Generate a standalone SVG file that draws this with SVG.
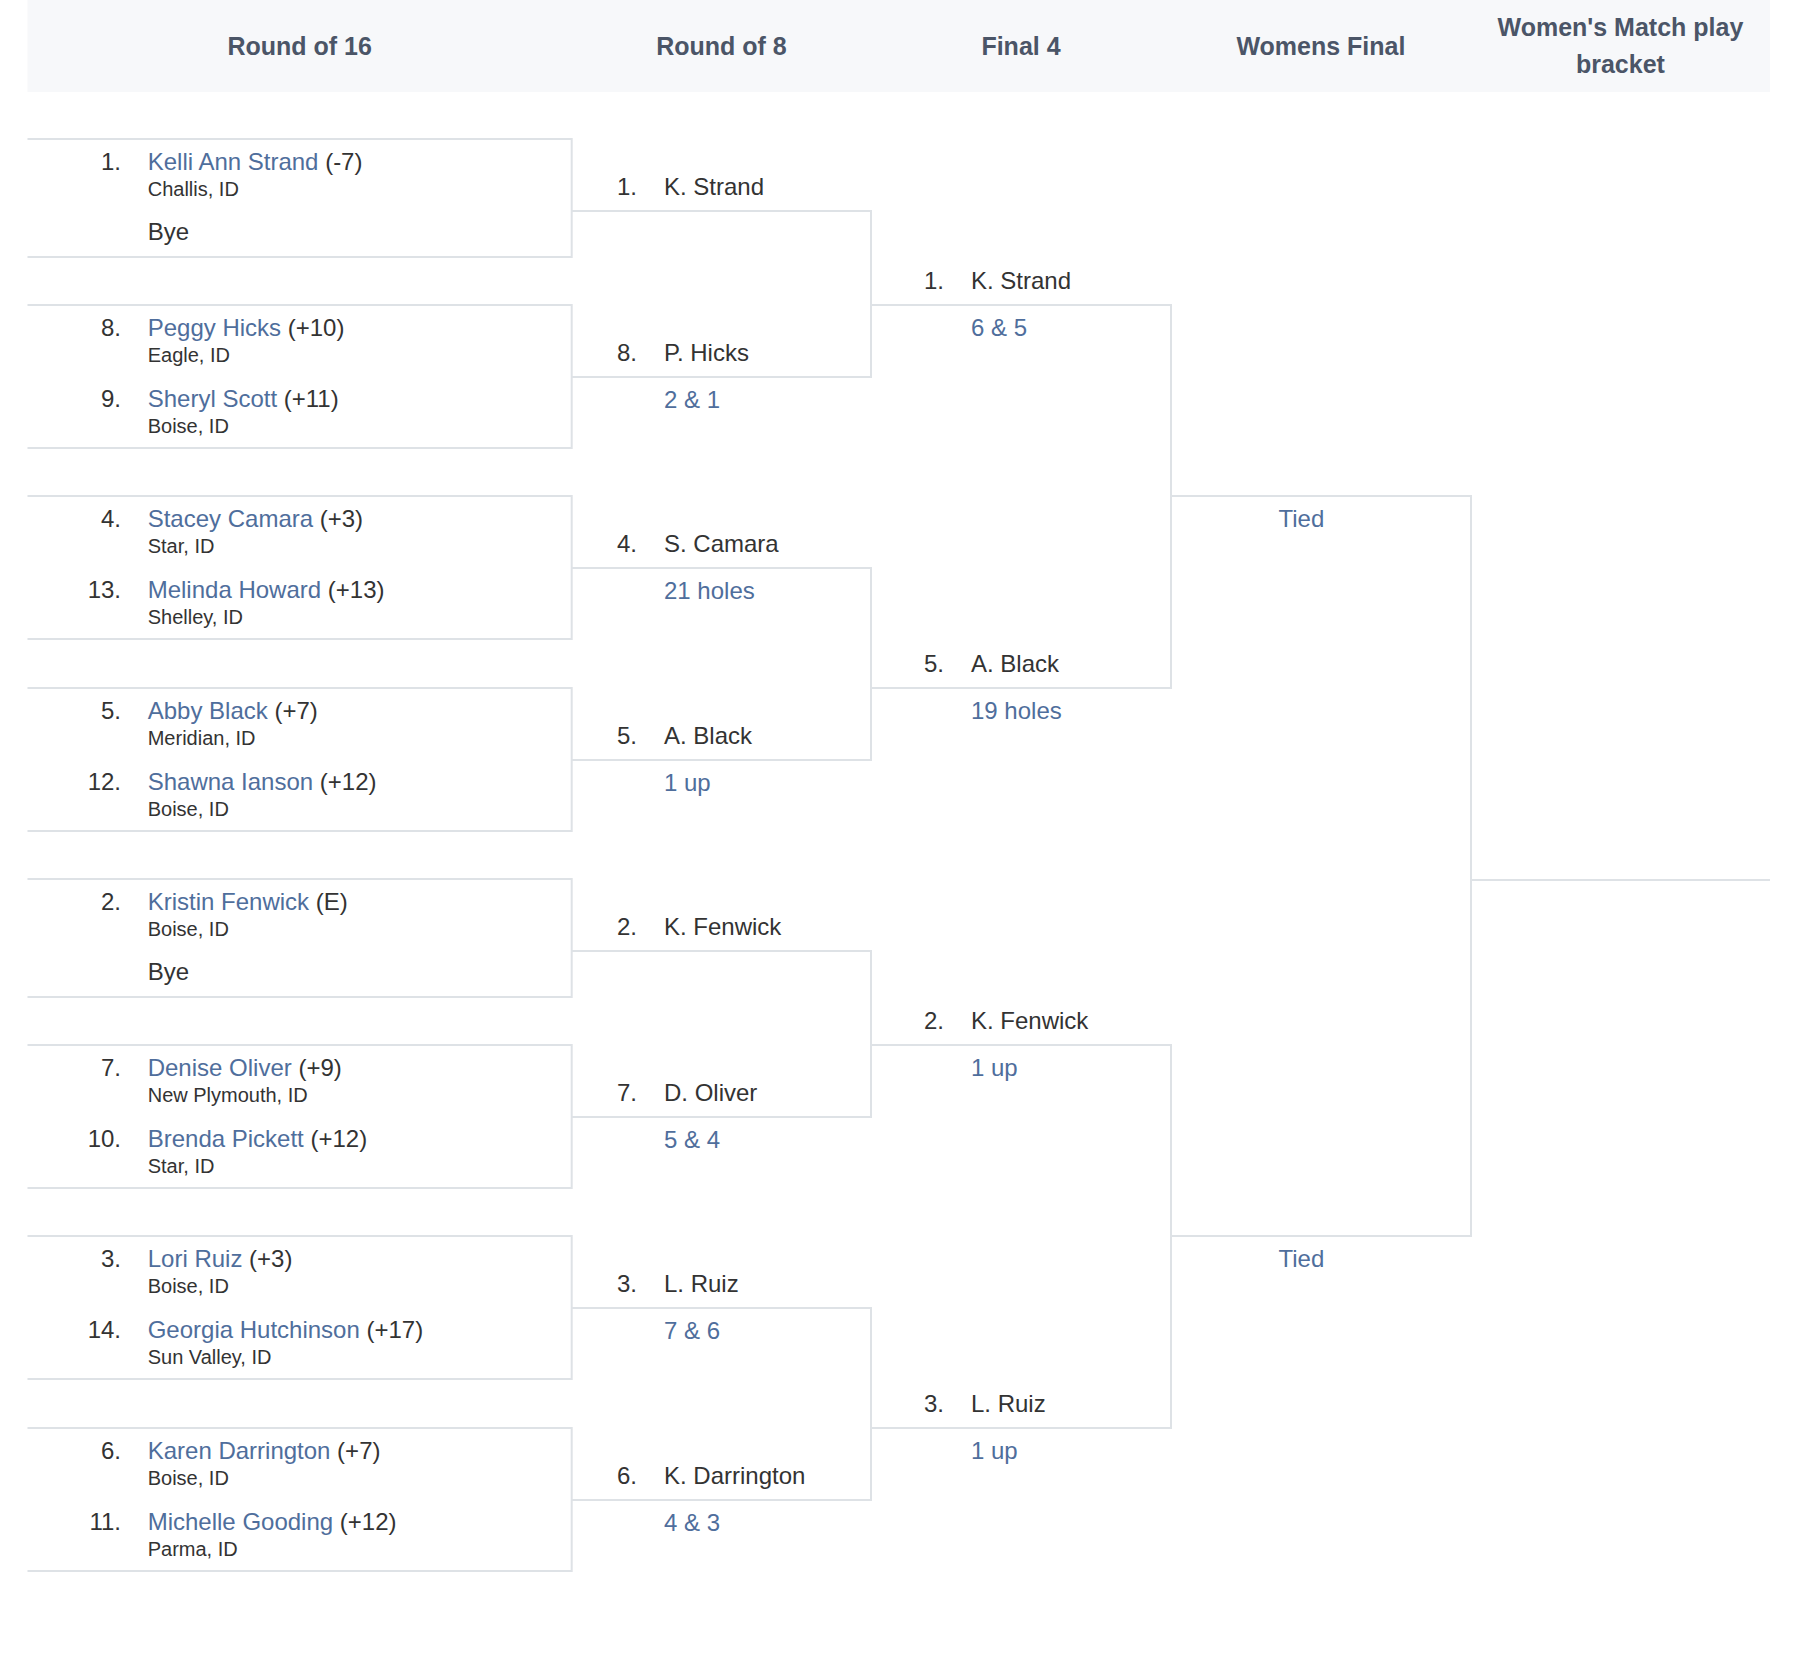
<svg xmlns="http://www.w3.org/2000/svg" width="1800" height="1664" viewBox="0 0 1800 1664">
<style>
.hd{font-family:"Liberation Sans",Arial,sans-serif;font-weight:bold;font-size:25px;fill:#4b5567;text-anchor:middle}
.t{font-family:"Liberation Sans",Arial,sans-serif;font-size:24px;fill:#333333}
.ct{font-family:"Liberation Sans",Arial,sans-serif;font-size:20px;fill:#333333}
.sd{text-anchor:end}
.lk{fill:#4f6e9c}
.ln{fill:none;stroke:#dee2e6;stroke-width:2}
</style>
<rect width="1800" height="1664" fill="#ffffff"/>
<g id="header">
<rect x="27.5" y="0" width="1742.5" height="92" fill="#f7f8fa"/>
<text class="hd" x="299.6" y="55">Round of 16</text>
<text class="hd" x="721.4" y="55">Round of 8</text>
<text class="hd" x="1021" y="55">Final 4</text>
<text class="hd" x="1320.9" y="55">Womens Final</text>
<text class="hd" x="1620.4" y="35.7">Women's Match play</text>
<text class="hd" x="1620.4" y="72.7">bracket</text>
</g>

<g id="r16-m1">
<path class="ln" d="M27.5,139H571.7V257H27.5"/>
<text class="t sd" x="121" y="170">1.</text>
<text class="t" x="147.7" y="170"><tspan class="lk">Kelli Ann Strand</tspan> (-7)</text>
<text class="ct" x="147.7" y="196.3">Challis, ID</text>
<text class="t" x="147.7" y="240">Bye</text>
</g>
<g id="r16-m2">
<path class="ln" d="M27.5,305H571.7V448H27.5"/>
<text class="t sd" x="121" y="336">8.</text>
<text class="t" x="147.7" y="336"><tspan class="lk">Peggy Hicks</tspan> (+10)</text>
<text class="ct" x="147.7" y="362.3">Eagle, ID</text>
<text class="t sd" x="121" y="406.7">9.</text>
<text class="t" x="147.7" y="406.7"><tspan class="lk">Sheryl Scott</tspan> (+11)</text>
<text class="ct" x="147.7" y="433.3">Boise, ID</text>
</g>
<g id="r16-m3">
<path class="ln" d="M27.5,496H571.7V639H27.5"/>
<text class="t sd" x="121" y="527">4.</text>
<text class="t" x="147.7" y="527"><tspan class="lk">Stacey Camara</tspan> (+3)</text>
<text class="ct" x="147.7" y="553.3">Star, ID</text>
<text class="t sd" x="121" y="597.7">13.</text>
<text class="t" x="147.7" y="597.7"><tspan class="lk">Melinda Howard</tspan> (+13)</text>
<text class="ct" x="147.7" y="624.3">Shelley, ID</text>
</g>
<g id="r16-m4">
<path class="ln" d="M27.5,688H571.7V831H27.5"/>
<text class="t sd" x="121" y="719">5.</text>
<text class="t" x="147.7" y="719"><tspan class="lk">Abby Black</tspan> (+7)</text>
<text class="ct" x="147.7" y="745.3">Meridian, ID</text>
<text class="t sd" x="121" y="789.7">12.</text>
<text class="t" x="147.7" y="789.7"><tspan class="lk">Shawna Ianson</tspan> (+12)</text>
<text class="ct" x="147.7" y="816.3">Boise, ID</text>
</g>
<g id="r16-m5">
<path class="ln" d="M27.5,879H571.7V997H27.5"/>
<text class="t sd" x="121" y="910">2.</text>
<text class="t" x="147.7" y="910"><tspan class="lk">Kristin Fenwick</tspan> (E)</text>
<text class="ct" x="147.7" y="936.3">Boise, ID</text>
<text class="t" x="147.7" y="980">Bye</text>
</g>
<g id="r16-m6">
<path class="ln" d="M27.5,1045H571.7V1188H27.5"/>
<text class="t sd" x="121" y="1076">7.</text>
<text class="t" x="147.7" y="1076"><tspan class="lk">Denise Oliver</tspan> (+9)</text>
<text class="ct" x="147.7" y="1102.3">New Plymouth, ID</text>
<text class="t sd" x="121" y="1146.7">10.</text>
<text class="t" x="147.7" y="1146.7"><tspan class="lk">Brenda Pickett</tspan> (+12)</text>
<text class="ct" x="147.7" y="1173.3">Star, ID</text>
</g>
<g id="r16-m7">
<path class="ln" d="M27.5,1236H571.7V1379H27.5"/>
<text class="t sd" x="121" y="1267">3.</text>
<text class="t" x="147.7" y="1267"><tspan class="lk">Lori Ruiz</tspan> (+3)</text>
<text class="ct" x="147.7" y="1293.3">Boise, ID</text>
<text class="t sd" x="121" y="1337.7">14.</text>
<text class="t" x="147.7" y="1337.7"><tspan class="lk">Georgia Hutchinson</tspan> (+17)</text>
<text class="ct" x="147.7" y="1364.3">Sun Valley, ID</text>
</g>
<g id="r16-m8">
<path class="ln" d="M27.5,1428H571.7V1571H27.5"/>
<text class="t sd" x="121" y="1459">6.</text>
<text class="t" x="147.7" y="1459"><tspan class="lk">Karen Darrington</tspan> (+7)</text>
<text class="ct" x="147.7" y="1485.3">Boise, ID</text>
<text class="t sd" x="121" y="1529.7">11.</text>
<text class="t" x="147.7" y="1529.7"><tspan class="lk">Michelle Gooding</tspan> (+12)</text>
<text class="ct" x="147.7" y="1556.3">Parma, ID</text>
</g>

<g id="connectors">
<path class="ln" d="M571.7,211H871V377H571.7"/>
<path class="ln" d="M571.7,568H871V760H571.7"/>
<path class="ln" d="M571.7,951H871V1117H571.7"/>
<path class="ln" d="M571.7,1308H871V1500H571.7"/>
<path class="ln" d="M871,305H1171V688H871"/>
<path class="ln" d="M871,1045H1171V1428H871"/>
<path class="ln" d="M1171,496H1471V1236H1171"/>
<path class="ln" d="M1471,880H1770"/>
</g>

<g id="r8-1"><text class="t sd" x="637" y="194.5">1.</text><text class="t" x="664" y="194.5">K. Strand</text></g>
<g id="r8-2"><text class="t sd" x="637" y="360.5">8.</text><text class="t" x="664" y="360.5">P. Hicks</text><text class="t lk" x="664" y="407.5">2 &amp; 1</text></g>
<g id="r8-3"><text class="t sd" x="637" y="551.5">4.</text><text class="t" x="664" y="551.5">S. Camara</text><text class="t lk" x="664" y="598.5">21 holes</text></g>
<g id="r8-4"><text class="t sd" x="637" y="743.5">5.</text><text class="t" x="664" y="743.5">A. Black</text><text class="t lk" x="664" y="790.5">1 up</text></g>
<g id="r8-5"><text class="t sd" x="637" y="934.5">2.</text><text class="t" x="664" y="934.5">K. Fenwick</text></g>
<g id="r8-6"><text class="t sd" x="637" y="1100.5">7.</text><text class="t" x="664" y="1100.5">D. Oliver</text><text class="t lk" x="664" y="1147.5">5 &amp; 4</text></g>
<g id="r8-7"><text class="t sd" x="637" y="1291.5">3.</text><text class="t" x="664" y="1291.5">L. Ruiz</text><text class="t lk" x="664" y="1338.5">7 &amp; 6</text></g>
<g id="r8-8"><text class="t sd" x="637" y="1483.5">6.</text><text class="t" x="664" y="1483.5">K. Darrington</text><text class="t lk" x="664" y="1530.5">4 &amp; 3</text></g>

<g id="f4-1"><text class="t sd" x="944" y="288.5">1.</text><text class="t" x="971" y="288.5">K. Strand</text><text class="t lk" x="971" y="335.5">6 &amp; 5</text></g>
<g id="f4-2"><text class="t sd" x="944" y="671.5">5.</text><text class="t" x="971" y="671.5">A. Black</text><text class="t lk" x="971" y="718.5">19 holes</text></g>
<g id="f4-3"><text class="t sd" x="944" y="1028.5">2.</text><text class="t" x="971" y="1028.5">K. Fenwick</text><text class="t lk" x="971" y="1075.5">1 up</text></g>
<g id="f4-4"><text class="t sd" x="944" y="1411.5">3.</text><text class="t" x="971" y="1411.5">L. Ruiz</text><text class="t lk" x="971" y="1458.5">1 up</text></g>

<g id="wf-1"><text class="t lk" x="1278.5" y="526.5">Tied</text></g>
<g id="wf-2"><text class="t lk" x="1278.5" y="1266.5">Tied</text></g>
</svg>
